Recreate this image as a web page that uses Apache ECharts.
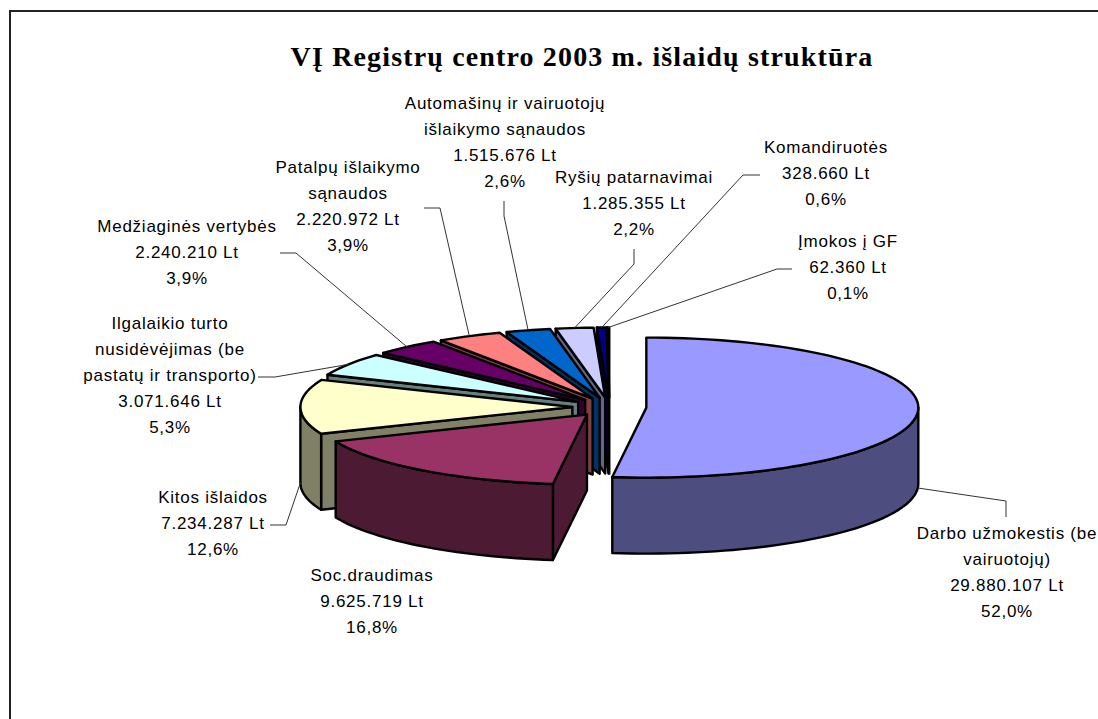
<!DOCTYPE html>
<html>

<head>
    <meta charset="utf-8">
    <script src="https://cdn.jsdelivr.net/npm/echarts@6/dist/echarts.min.js"></script>
    <title>Registru centras</title>
    <style>
        html, body { margin: 0; padding: 0; background: #fff; }
        #main { position: absolute; left: 0; top: 0; width: 1098px; height: 719px; overflow: hidden; }
        /* the original text is set wider than the installed fonts */
        #main svg text { letter-spacing: 0.75px; }
        #main svg text[style*="bold"] { letter-spacing: 1.15px; }
    </style>
</head>

<body>
    <div id="main"></div>
    <script type="text/javascript">
        var chartTitle = 'VĮ Registrų centro 2003 m. išlaidų struktūra';
        var sliceNames = [
            'Darbo užmokestis (be\nvairuotojų)',
            'Soc.draudimas',
            'Kitos išlaidos',
            'Ilgalaikio turto\nnusidėvėjimas (be\npastatų ir transporto)',
            'Medžiaginės vertybės',
            'Patalpų išlaikymo\nsąnaudos',
            'Automašinų ir vairuotojų\nišlaikymo sąnaudos',
            'Ryšių patarnavimai',
            'Komandiruotės',
            'Įmokos į GF'
        ];
        var sliceValues = [29880107, 9625719, 7234287, 3071646, 2240210, 2220972, 1515676, 1285355, 328660, 62360];
        var topColors = ['#9999FF', '#993366', '#FFFFCC', '#CCFFFF', '#660066', '#FF8080', '#0066CC', '#CCCCFF', '#000080', '#FF00FF'];
        var sideColors = ['#4D4D80', '#4D1A33', '#808066', '#668080', '#330033', '#804040', '#003366', '#666680', '#000040', '#800080'];

        // label block centres and the first points of each leader line (page pixels)
        var labelCentres = [[1007, 572], [372, 601], [213, 523], [170, 375], [187, 252], [348, 206], [505, 142], [634, 203], [826, 173], [848, 267]];
        var leaderStarts = [
            [[1006, 517], [1006, 501]],
            null,
            [[270, 525], [286, 525]],
            [[258, 377], [275, 377]],
            [[280, 253], [296, 253]],
            [[424, 208], [440, 208]],
            [[504, 201], [504, 216]],
            [[634, 249], [634, 264]],
            [[760, 175], [743, 175]],
            [[792, 269], [777, 269]]
        ];

        var pie = { cx: 609.4, cy: 407, rx: 272, ry: 70, depth: 76, explode: 37 };
        var total = sliceValues.reduce(function (a, b) { return a + b; }, 0);

        function rimPoint(c, deg, dy) {
            var r = deg * Math.PI / 180;
            return [c[0] + pie.rx * Math.sin(r), c[1] - pie.ry * Math.cos(r) + (dy || 0)];
        }

        function arcPoints(c, from, to, dy) {
            var pts = [];
            var n = Math.max(1, Math.ceil((to - from) / 2));
            for (var i = 0; i <= n; i++) {
                pts.push(rimPoint(c, from + (to - from) * i / n, dy));
            }
            return pts;
        }

        function labelText(i, value) {
            var amount = String(value).replace(/\B(?=(\d{3})+$)/g, '.');
            var percent = (value / total * 100).toFixed(1).replace('.', ',');
            return sliceNames[i] + '\n' + amount + ' Lt\n' + percent + '%';
        }

        function faceStyle(color) {
            return { fill: color, stroke: '#000', lineWidth: 2.4, lineJoin: 'round' };
        }

        function renderSlice(params, api) {
            var i = params.dataIndex;
            var value = api.value(1);
            var before = 0;
            for (var k = 0; k < i; k++) {
                before += sliceValues[k];
            }
            var a = before / total * 360;
            var b = (before + value) / total * 360;
            var mid = (a + b) / 2 * Math.PI / 180;
            var c = [
                pie.cx + pie.explode * Math.sin(mid),
                pie.cy - pie.explode * Math.cos(mid) * pie.ry / pie.rx
            ];
            var bottomC = [c[0], c[1] + pie.depth];
            var z = i * 10 + 10;
            // the first slice is painted last, the rest front to back in reverse
            var order = i === 0 ? 200 : (i === 1 ? 190 : 150 - z);
            var children = [];

            // radial walls that face the viewer
            if (Math.sin(a * Math.PI / 180) < -0.001) {
                children.push({
                    type: 'polygon',
                    z2: order,
                    shape: { points: [c, rimPoint(c, a), rimPoint(c, a, pie.depth), bottomC] },
                    style: faceStyle(sideColors[i])
                });
            }
            if (Math.sin(b * Math.PI / 180) > 0.001) {
                children.push({
                    type: 'polygon',
                    z2: order,
                    shape: { points: [c, rimPoint(c, b), rimPoint(c, b, pie.depth), bottomC] },
                    style: faceStyle(sideColors[i])
                });
            }

            // outer wall, only the part turned to the front
            var f = Math.max(a, 90);
            var t = Math.min(b, 270);
            if (t > f) {
                var upper = arcPoints(c, f, t, 0);
                var lower = arcPoints(c, f, t, pie.depth).reverse();
                children.push({
                    type: 'polygon',
                    z2: order + 1,
                    shape: { points: upper.concat(lower) },
                    style: faceStyle(sideColors[i])
                });
            }

            // top face
            children.push({
                type: 'polygon',
                z2: order + 2,
                shape: { points: [c].concat(arcPoints(c, a, b, 0)) },
                style: faceStyle(topColors[i])
            });

            // leader line ends on the rim at the middle of the slice
            if (leaderStarts[i]) {
                var midDeg = (a + b) / 2;
                var end = rimPoint(c, midDeg, Math.cos(mid) < 0.05 ? pie.depth : 0);
                children.push({
                    type: 'polyline',
                    z2: 300,
                    shape: { points: leaderStarts[i].concat([end]) },
                    style: { fill: null, stroke: '#333', lineWidth: 1 }
                });
            }

            children.push({
                type: 'text',
                z2: 310,
                style: {
                    text: labelText(i, value),
                    x: labelCentres[i][0],
                    y: labelCentres[i][1],
                    align: 'center',
                    verticalAlign: 'middle',
                    fontFamily: '"Liberation Sans", Arial, sans-serif',
                    fontSize: 17,
                    lineHeight: 26,
                    fill: '#000'
                }
            });

            return { type: 'group', children: children };
        }

        var myChart = echarts.init(document.getElementById('main'), null, { renderer: 'svg' });

        myChart.setOption({
            animation: false,
            backgroundColor: '#fff',
            title: {
                text: chartTitle,
                left: 577,
                top: 37,
                textAlign: 'center',
                textStyle: {
                    fontFamily: '"Liberation Serif", "Times New Roman", serif',
                    fontWeight: 'bold',
                    fontSize: 28,
                    color: '#000'
                }
            },
            graphic: [{
                type: 'rect',
                silent: true,
                shape: { x: 10, y: 11, width: 1200, height: 800 },
                style: { fill: null, stroke: '#222', lineWidth: 2 }
            }],
            series: [{
                type: 'custom',
                coordinateSystem: 'none',
                renderItem: renderSlice,
                data: sliceValues.map(function (v, i) { return [i, v]; })
            }]
        });
    </script>
</body>

</html>
